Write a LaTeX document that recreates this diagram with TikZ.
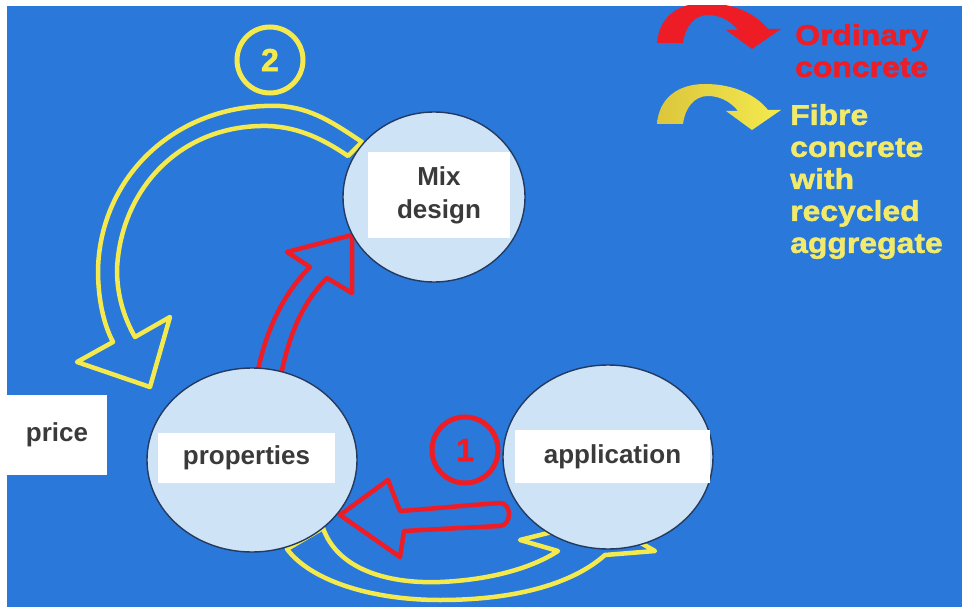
\documentclass[tikz,border=0pt]{standalone}
\usepackage{fontspec}
\setmainfont{Liberation Sans}
\newfontfamily\legendfont{Liberation Sans}[FakeStretch=1.12, FakeBold=1.6]
\newfontfamily\digitfont{Liberation Sans}[FakeBold=1.5]
\usetikzlibrary{shapes.geometric}

\definecolor{sky}{HTML}{2A78DA}
\definecolor{discfill}{HTML}{CFE3F6}
\definecolor{rim}{HTML}{243A5E}
\definecolor{sun}{HTML}{F4EA4E}
\definecolor{gold}{HTML}{DCC63C}
\definecolor{fire}{HTML}{EE1C25}
\definecolor{ink}{HTML}{3A3A3A}
\definecolor{pale}{HTML}{F2EA6A}

\tikzset{
  disc/.style={ellipse, fill=discfill, draw=rim, line width=1.4pt, inner sep=0pt},
  labelbox/.style={fill=white, inner sep=0pt, text=ink, align=center,
    font=\fontsize{26}{33}\selectfont\bfseries},
  hollowY/.style={draw=sun, line width=4.5pt, line join=round, fill=sky},
  hollowR/.style={draw=fire, line width=4.5pt, line join=round, fill=sky},
  ring/.style={circle, line width=5pt, inner sep=0pt, minimum size=66pt,
    font=\digitfont\fontsize{32}{32}\selectfont\bfseries},
  legendtext/.style={anchor=north west, inner sep=0pt, align=left,
    font=\legendfont\fontsize{28.5}{32}\selectfont\bfseries},
  pics/curvedtag/.style={code={
    \path[pic actions] (657,124) .. controls (659,98) and (678,84) .. (705,84)
      .. controls (735,84) and (757,96) .. (768,110) -- (781,110) -- (752,130)
      -- (726,111) -- (738,111) .. controls (730,101) and (719,96) .. (708,96)
      .. controls (694,96) and (685,108) .. (683,124) -- cycle;
  }},
}

\begin{document}
\begin{tikzpicture}[x=1pt, y=-1pt]
\useasboundingbox (0,0) rectangle (962,607);
\fill[white] (0,0) rectangle (962,607);
\begin{scope}
\clip (7,6) rectangle (962,607);
\fill[sky] (7,6) rectangle (962,607);

% yellow loop: mix design -> price / properties
\draw[hollowY] (362,142) .. controls (335,124) and (312,108) .. (280,106)
  .. controls (178,102) and (100,175) .. (98,270)
  .. controls (98,300) and (104,325) .. (113,342) -- (77,362) -- (150,387)
  -- (170,317) -- (135,337) .. controls (124,318) and (117,295) .. (117,270)
  .. controls (120,190) and (180,124) .. (268,126)
  .. controls (300,127) and (326,141) .. (348,156) -- cycle;

% red arrow: properties -> mix design
\draw[hollowR] (257,375) .. controls (266,328) and (285,292) .. (310,267)
  -- (287,252) -- (352,235) -- (352,293) -- (327,278)
  .. controls (305,300) and (290,330) .. (281,375) -- cycle;

% yellow arrow underneath: properties -> application
\draw[hollowY] (323,528) .. controls (337,568) and (385,584) .. (440,582)
  .. controls (490,580) and (532,568) .. (558,551) -- (520,540) -- (600,520)
  -- (655,551) -- (605,555) .. controls (570,586) and (510,600) .. (440,600)
  .. controls (370,600) and (310,580) .. (287,549) -- cycle;

% red arrow: application -> properties
\draw[hollowR] (400,511) -- (388,480) -- (340,515) -- (400,557) -- (404,531)
  .. controls (440,529) and (480,527) .. (500,526)
  .. controls (512,525) and (512,503) .. (500,503)
  .. controls (470,505) and (430,509) .. (400,511) -- cycle;

% the three stages
\node[disc, minimum width=182pt, minimum height=170pt] (mix) at (434,197) {};
\node[disc, minimum width=210pt, minimum height=184pt] (prop) at (252,460) {};
\node[disc, minimum width=210pt, minimum height=184pt] (app) at (608,457) {};

\node[labelbox, minimum width=142pt, minimum height=86pt] (mixlbl) at (439,195) {Mix\\design};
\node[labelbox, minimum width=177pt, minimum height=50pt] (proplbl) at (246.5,458) {properties};
\node[labelbox, minimum width=195pt, minimum height=53pt] (applbl) at (612.5,456.5) {application};
\node[labelbox, minimum width=100pt, minimum height=80pt] (price) at (57,435) {price};

% loop numbers
\node[ring, draw=sun, text=sun] (two) at (270,60) {2};
\node[ring, draw=fire, text=fire] (one) at (465,450) {1};

% legend
\pic[fill=fire] (redtag) at (0,-81) {curvedtag};
\pic[left color=gold, right color=sun] (yellowtag) at (0,0) {curvedtag};
\node[legendtext, text=fire] (ordinary) at (795,24) {Ordinary\\concrete};
\node[legendtext, text=pale] (fibre) at (790,104) {Fibre\\concrete\\with\\recycled\\aggregate};
\end{scope}
\end{tikzpicture}
\end{document}
